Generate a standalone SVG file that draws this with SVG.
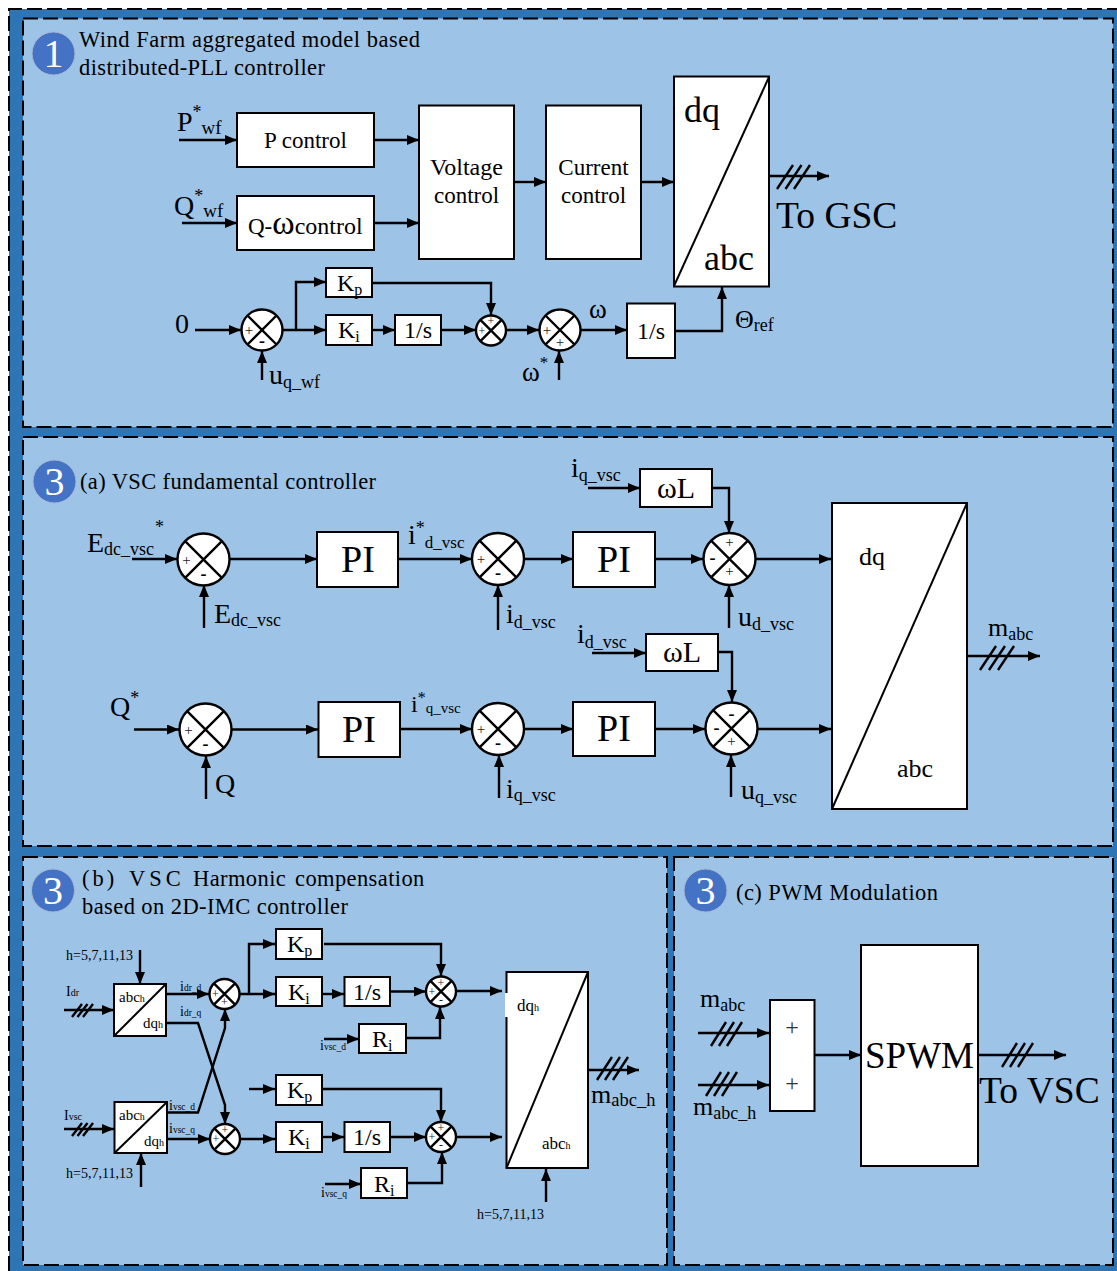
<svg xmlns="http://www.w3.org/2000/svg" width="1117" height="1271" viewBox="0 0 1117 1271">
<style>
text{font-family:"Liberation Serif","Times New Roman",serif;fill:#000}
.panel{fill:#9dc3e6;stroke:#000;stroke-width:2;stroke-dasharray:15 5}
.badge{fill:#4472c4;stroke:#a9b8d4;stroke-width:1}
.num{fill:#fff;font-size:40px;text-anchor:middle}
.title{font-size:22.5px}
.box{fill:#fff;stroke:#000;stroke-width:2}
.diag{fill:none;stroke:#000;stroke-width:2}
.sum{fill:#fff;stroke:#000;stroke-width:2.4}
.c{text-anchor:middle}
.line{fill:none;stroke:#000;stroke-width:2.4;marker-end:url(#arrow)}
.plain{fill:none;stroke:#000;stroke-width:2.4}
.sg{font-size:15px;text-anchor:middle;fill:#222}
.mn{font-size:18px;font-weight:bold;text-anchor:middle}
.sgs{font-size:12px;text-anchor:middle;fill:#222}
</style>
<defs>
<marker id="arrow" markerUnits="userSpaceOnUse" markerWidth="13" markerHeight="11" refX="12" refY="5" orient="auto"><path d="M0 0L12 5L0 10z" fill="#000"/></marker>
<g id="x26"><circle r="26" class="sum"/><path class="plain" d="M-18.400-18.400L18.400 18.400M-18.400 18.400L18.400-18.400"/></g>
<g id="x21"><circle r="20.500" class="sum"/><path class="plain" d="M-14.500-14.500L14.500 14.500M-14.500 14.500L14.500-14.500"/></g>
<g id="x15"><circle r="15" class="sum"/><path class="plain" d="M-10.600-10.600L10.600 10.600M-10.600 10.600L10.600-10.600"/></g>
</defs>
<rect x="9" y="9" width="1108" height="1262" fill="#2e75b6"/>
<path d="M9 1271V9H1117" fill="none" stroke="#000" stroke-width="2" stroke-dasharray="15 5"/>
<rect class="panel" x="23" y="18.500" width="1090" height="408.500"/>
<rect class="panel" x="23" y="437" width="1090" height="409"/>
<rect class="panel" x="23" y="857" width="644" height="408"/>
<rect class="panel" x="674" y="857" width="439" height="408"/>

<g id="panel1-header">
<circle class="badge" cx="53.500" cy="53.500" r="21.500"/><text class="num" x="53.500" y="67">1</text>
<text class="title" x="79" y="47" textLength="341">Wind Farm aggregated model based</text>
<text class="title" x="79" y="75" textLength="246">distributed-PLL controller</text>
</g>
<g id="panel2-header">
<circle class="badge" cx="54.500" cy="481.500" r="21.500"/><text class="num" x="54.500" y="495">3</text>
<text class="title" x="80" y="489" textLength="296">(a) VSC fundamental controller</text>
</g>
<g id="panel3-header">
<circle class="badge" cx="53" cy="890.500" r="21.500"/><text class="num" x="53" y="904">3</text>
<text class="title" x="82" y="886"><tspan letter-spacing="3">(b)</tspan><tspan x="129" letter-spacing="4">VSC</tspan><tspan x="193" letter-spacing="0.4">Harmonic</tspan><tspan x="295" letter-spacing="0.4">compensation</tspan></text>
<text class="title" x="82" y="914" textLength="266">based on 2D-IMC controller</text>
</g>
<g id="panel4-header">
<circle class="badge" cx="705.500" cy="890.500" r="21.500"/><text class="num" x="705.500" y="904">3</text>
<text class="title" x="736" y="900" textLength="202">(c) PWM Modulation</text>
</g>

<g id="connectors">
<path class="line" d="M179 140H237"/>
<path class="line" d="M182 223H237"/>
<path class="line" d="M374 140H419"/>
<path class="line" d="M374 223H419"/>
<path class="line" d="M514 182H546"/>
<path class="line" d="M641 182H674"/>
<path class="line" d="M769 176H829"/>
<path class="plain" d="M777 189L793 165M785.500 189L801.500 165M794 189L810 165"/>
<path class="line" d="M195 330H241"/>
<path class="line" d="M262 380V351"/>
<path class="line" d="M283 330H326"/>
<path class="line" d="M296 330V282H326"/>
<path class="line" d="M372 283H491V315"/>
<path class="line" d="M372 330H395"/>
<path class="line" d="M441 330H476"/>
<path class="line" d="M506 330H539"/>
<path class="line" d="M559 380V351"/>
<path class="line" d="M580 330H627"/>
<path class="line" d="M675 331H722V287"/>

<path class="line" d="M132 559H177"/>
<path class="line" d="M230 559H317"/>
<path class="line" d="M398 559H472"/>
<path class="line" d="M524 559H573"/>
<path class="line" d="M655 559H703"/>
<path class="line" d="M756 559H831"/>
<path class="line" d="M204 628V585"/>
<path class="line" d="M498 630V585"/>
<path class="line" d="M729 628V585"/>
<path class="line" d="M588 488H640"/>
<path class="line" d="M712 488H729V533"/>
<path class="line" d="M134 729.500H179"/>
<path class="line" d="M232 729.500H318"/>
<path class="line" d="M400 729H472"/>
<path class="line" d="M524 729H573"/>
<path class="line" d="M655 729H705"/>
<path class="line" d="M758 729H831"/>
<path class="line" d="M592 653H646"/>
<path class="line" d="M718 652H732V702"/>
<path class="line" d="M206 799V756"/>
<path class="line" d="M499 798V755"/>
<path class="line" d="M731 797V755"/>
<path class="line" d="M967 656H1040"/>
<path class="plain" d="M980 670L996 646M989 670L1005 646M998 670L1014 646"/>

<path class="line" d="M140 950V984"/>
<path class="line" d="M64 1010H114"/>
<path class="plain" d="M72 1017L82 1004M77.500 1017L87.500 1004M83 1017L93 1004"/>
<path class="line" d="M166 994H209"/>
<path class="line" d="M166 1023H198L225 1105V1124"/>
<path class="line" d="M167 1112.500H198L225 1028V1009"/>
<path class="line" d="M64 1129H114"/>
<path class="plain" d="M72 1136L82 1123M77.500 1136L87.500 1123M83 1136L93 1123"/>
<path class="line" d="M141 1187V1153"/>
<path class="line" d="M167 1139H210"/>
<path class="line" d="M240 994H275"/>
<path class="line" d="M249 994V944H275"/>
<path class="line" d="M322 994H344"/>
<path class="line" d="M390 991.500H426"/>
<path class="line" d="M324 944H441V976"/>
<path class="line" d="M324 1039H359"/>
<path class="line" d="M406 1038H440V1007"/>
<path class="line" d="M457 991H502"/>
<path class="line" d="M240 1139H275"/>
<path class="line" d="M249 1089H275"/>
<path class="line" d="M322 1089H441V1122"/>
<path class="line" d="M322 1137H344"/>
<path class="line" d="M390 1137H426"/>
<path class="line" d="M325 1184H361"/>
<path class="line" d="M407 1183H442V1152"/>
<path class="line" d="M457 1137H502"/>
<path class="line" d="M588 1070H639"/>
<path class="plain" d="M597 1080L612 1057M605 1080L620 1057M613 1080L628 1057"/>
<path class="line" d="M546 1202V1169"/>

<path class="line" d="M698 1033H769"/>
<path class="plain" d="M711 1046L726 1022M719 1046L734 1022M727 1046L742 1022"/>
<path class="line" d="M698 1085H769"/>
<path class="plain" d="M706 1096L721 1072M714 1096L729 1072M722 1096L737 1072"/>
<path class="line" d="M814 1055H861"/>
<path class="line" d="M979 1055H1066"/>
<path class="plain" d="M1002 1067L1017 1043M1010 1067L1025 1043M1018 1067L1033 1043"/>
</g>

<g id="p-control"><rect class="box" x="237" y="113" width="137" height="54"/><text class="c" x="305.500" y="148" font-size="23">P control</text></g>
<g id="q-control"><rect class="box" x="237" y="196" width="137" height="54"/><text x="248" y="234" font-size="23">Q-<tspan font-size="34">ω</tspan><tspan font-size="24">control</tspan></text></g>
<g id="voltage-control"><rect class="box" x="419" y="105.500" width="95" height="153.500"/><text class="c" x="466.500" y="175" font-size="24">Voltage</text><text class="c" x="466.500" y="203" font-size="23">control</text></g>
<g id="current-control"><rect class="box" x="546" y="105.500" width="95" height="153.500"/><text class="c" x="593.500" y="175" font-size="23">Current</text><text class="c" x="593.500" y="203" font-size="23">control</text></g>
<g id="dq-abc-1"><rect class="box" x="674" y="76.500" width="95" height="210"/><path class="diag" d="M769 77L674 286"/><text x="684" y="122" font-size="36">dq</text><text x="704" y="270" font-size="36">abc</text></g>
<g id="sum-1-a" transform="translate(262 330)"><use href="#x21"/><text class="sg" x="-13" y="5">+</text><text class="mn" y="17">-</text></g>
<g id="kp-1"><rect class="box" x="326" y="268" width="46" height="29"/><text x="337" y="291" font-size="24">K<tspan font-size="16" dy="4">p</tspan></text></g>
<g id="ki-1"><rect class="box" x="326" y="315" width="46" height="30"/><text x="338" y="338" font-size="24">K<tspan font-size="16" dy="4">i</tspan></text></g>
<g id="int-1"><rect class="box" x="395" y="315" width="46" height="30"/><text class="c" x="418" y="338" font-size="24">1/s</text></g>
<g id="sum-1-b" transform="translate(491 330.500)"><use href="#x15"/><text class="sgs" x="-9" y="4">+</text><text class="sgs" y="-6">+</text></g>
<g id="sum-1-c" transform="translate(560 330)"><use href="#x21"/><text class="sg" x="-13" y="5">+</text><text class="sg" y="17">+</text></g>
<g id="int-2"><rect class="box" x="627" y="303.500" width="48" height="54.500"/><text class="c" x="651" y="339" font-size="24">1/s</text></g>
<g id="labels-1">
<text x="177" y="131" font-size="28">P<tspan font-size="18" dy="-13">*</tspan><tspan font-size="19" dy="16">wf</tspan></text>
<text x="174" y="215" font-size="28">Q<tspan font-size="18" dy="-13">*</tspan><tspan font-size="19" dy="15">wf</tspan></text>
<text x="175" y="333" font-size="28">0</text>
<text x="269" y="384" font-size="28">u<tspan font-size="18" dy="4">q_wf</tspan></text>
<text x="522" y="381" font-size="27">ω<tspan font-size="17" dy="-13">*</tspan></text>
<text x="589" y="318" font-size="27">ω</text>
<text x="735" y="328" font-size="26">Θ<tspan font-size="18" dy="3">ref</tspan></text>
<text x="776" y="228" font-size="37.500">To GSC</text>
</g>

<g id="sum-2-a" transform="translate(203.500 559.500)"><use href="#x26"/><text class="sg" x="-17" y="5">+</text><text class="mn" y="20">-</text></g>
<g id="pi-1"><rect class="box" x="317" y="532" width="81" height="55"/><text class="c" x="358" y="572" font-size="38">PI</text></g>
<g id="sum-2-b" transform="translate(498 559)"><use href="#x26"/><text class="sg" x="-17" y="5">+</text><text class="mn" y="20">-</text></g>
<g id="pi-2"><rect class="box" x="573" y="532" width="82" height="55"/><text class="c" x="614" y="572" font-size="38">PI</text></g>
<g id="sum-2-c" transform="translate(729.500 559)"><use href="#x26"/><text class="mn" x="-17" y="5">-</text><text class="sg" y="-12">+</text><text class="sg" y="17">+</text></g>
<g id="wl-1"><rect class="box" x="640" y="469" width="72" height="38"/><text class="c" x="676" y="498" font-size="30">ωL</text></g>
<g id="sum-2-d" transform="translate(205.500 729.500)"><use href="#x26"/><text class="sg" x="-17" y="5">+</text><text class="mn" y="20">-</text></g>
<g id="pi-3"><rect class="box" x="318.500" y="702" width="81.500" height="55"/><text class="c" x="359" y="742" font-size="38">PI</text></g>
<g id="sum-2-e" transform="translate(498 729)"><use href="#x26"/><text class="sg" x="-17" y="5">+</text><text class="mn" y="20">-</text></g>
<g id="pi-4"><rect class="box" x="573" y="702" width="82" height="54"/><text class="c" x="614" y="741" font-size="38">PI</text></g>
<g id="sum-2-f" transform="translate(731.500 728.500)"><use href="#x26"/><text class="mn" x="-15" y="5">-</text><text class="mn" y="-9">-</text><text class="sg" y="17">+</text></g>
<g id="wl-2"><rect class="box" x="646" y="634" width="72" height="37"/><text class="c" x="682" y="662" font-size="30">ωL</text></g>
<g id="dq-abc-2"><rect class="box" x="832" y="503" width="135" height="306"/><path class="diag" d="M967 503L832 809"/><text x="859" y="565" font-size="26">dq</text><text x="897" y="777" font-size="26">abc</text></g>
<g id="labels-2">
<text x="87" y="552" font-size="28">E<tspan font-size="18" dy="3">dc_vsc</tspan><tspan font-size="18" dy="-22" dx="1">*</tspan></text>
<text x="214" y="623" font-size="28">E<tspan font-size="18" dy="3">dc_vsc</tspan></text>
<text x="408" y="544" font-size="28">i<tspan font-size="18" dy="-10">*</tspan><tspan font-size="17" dy="14">d_vsc</tspan></text>
<text x="506" y="623" font-size="28">i<tspan font-size="18" dy="5">d_vsc</tspan></text>
<text x="738" y="626" font-size="28">u<tspan font-size="18" dy="4">d_vsc</tspan></text>
<text x="571" y="477" font-size="28">i<tspan font-size="18" dy="4">q_vsc</tspan></text>
<text x="577" y="643" font-size="28">i<tspan font-size="18" dy="5">d_vsc</tspan></text>
<text x="110" y="716" font-size="28">Q<tspan font-size="18" dy="-12">*</tspan></text>
<text x="411" y="712" font-size="24">i<tspan font-size="16" dy="-9">*</tspan><tspan font-size="15" dy="10">q_vsc</tspan></text>
<text x="215" y="793" font-size="28">Q</text>
<text x="506" y="798" font-size="28">i<tspan font-size="18" dy="3">q_vsc</tspan></text>
<text x="741" y="799" font-size="28">u<tspan font-size="18" dy="4">q_vsc</tspan></text>
<text x="988" y="636" font-size="26">m<tspan font-size="18" dy="4">abc</tspan></text>
</g>

<g id="abc-dq-1"><rect class="box" x="114" y="984" width="52" height="52"/><path class="diag" d="M166 984L114 1036"/><text x="119" y="1002" font-size="15">abc<tspan font-size="10">h</tspan></text><text x="143" y="1028" font-size="15">dq<tspan font-size="10">h</tspan></text></g>
<g id="abc-dq-2"><rect class="box" x="114.500" y="1102" width="52.500" height="51"/><path class="diag" d="M167 1102L114.500 1153"/><text x="119" y="1120" font-size="15">abc<tspan font-size="10">h</tspan></text><text x="144" y="1146" font-size="15">dq<tspan font-size="10">h</tspan></text></g>
<g id="sum-3-a" transform="translate(224.500 994)"><use href="#x15"/><text class="sgs" x="-9" y="4">+</text><text class="sgs" y="12">+</text></g>
<g id="sum-3-b" transform="translate(225 1139)"><use href="#x15"/><text class="sgs" x="-9" y="4">+</text><text class="sgs" y="-5">+</text></g>
<g id="kp-3a"><rect class="box" x="276" y="929" width="46" height="30"/><text x="287" y="952" font-size="24">K<tspan font-size="16" dy="4">p</tspan></text></g>
<g id="ki-3a"><rect class="box" x="276" y="977" width="46" height="29"/><text x="288" y="1000" font-size="24">K<tspan font-size="16" dy="4">i</tspan></text></g>
<g id="int-3a"><rect class="box" x="344.500" y="977" width="45.500" height="29"/><text class="c" x="367" y="1000" font-size="24">1/s</text></g>
<g id="ri-3a"><rect class="box" x="359" y="1024" width="47" height="29"/><text x="372" y="1047" font-size="24">R<tspan font-size="16" dy="4">i</tspan></text></g>
<g id="sum-3-c" transform="translate(441 991.500)"><use href="#x15"/><text class="sgs" x="-9" y="4">+</text><text class="sgs" y="-5">+</text><text class="sgs" y="12">-</text></g>
<g id="kp-3b"><rect class="box" x="276" y="1075" width="46" height="30"/><text x="287" y="1098" font-size="24">K<tspan font-size="16" dy="4">p</tspan></text></g>
<g id="ki-3b"><rect class="box" x="276" y="1122" width="46" height="30"/><text x="288" y="1145" font-size="24">K<tspan font-size="16" dy="4">i</tspan></text></g>
<g id="int-3b"><rect class="box" x="344.500" y="1122" width="45.500" height="30"/><text class="c" x="367" y="1145" font-size="24">1/s</text></g>
<g id="ri-3b"><rect class="box" x="361" y="1168" width="46" height="30"/><text x="374" y="1192" font-size="24">R<tspan font-size="16" dy="4">i</tspan></text></g>
<g id="sum-3-d" transform="translate(441 1137)"><use href="#x15"/><text class="sgs" x="-9" y="4">+</text><text class="sgs" y="-5">+</text><text class="sgs" y="12">-</text></g>
<g id="dq-abc-3"><rect class="box" x="506.500" y="972" width="81.500" height="196"/><path class="diag" d="M588 972L506.500 1168"/><rect x="505" y="993" width="15" height="24" fill="#fff"/><text x="517" y="1011" font-size="17">dq<tspan font-size="10">h</tspan></text><text x="542" y="1149" font-size="17">abc<tspan font-size="10">h</tspan></text></g>
<g id="labels-3">
<text x="66" y="960" font-size="14">h=5,7,11,13</text>
<text x="66" y="1178" font-size="14">h=5,7,11,13</text>
<text x="477" y="1219" font-size="14">h=5,7,11,13</text>
<text x="66" y="996" font-size="14">I<tspan font-size="10">dr</tspan></text>
<text x="64" y="1120" font-size="14">I<tspan font-size="10">vsc</tspan></text>
<text x="180" y="991" font-size="14">i<tspan font-size="9.500">dr_d</tspan></text>
<text x="180" y="1016" font-size="14">i<tspan font-size="9.500">dr_q</tspan></text>
<text x="169" y="1110" font-size="14">i<tspan font-size="9.500">vsc_d</tspan></text>
<text x="169" y="1133" font-size="14">i<tspan font-size="9.500">vsc_q</tspan></text>
<text x="320" y="1050" font-size="14">i<tspan font-size="9.500">vsc_d</tspan></text>
<text x="321" y="1197" font-size="14">i<tspan font-size="9.500">vsc_q</tspan></text>
<text x="591" y="1103" font-size="26">m<tspan font-size="18.500" dy="3">abc_h</tspan></text>
</g>

<g id="adder"><rect class="box" x="770" y="1000" width="44.500" height="111"/><text class="c" x="792" y="1035" font-size="24" style="fill:#333">+</text><text class="c" x="792" y="1091" font-size="24" style="fill:#333">+</text></g>
<g id="spwm"><rect class="box" x="861" y="945" width="117" height="221"/><text class="c" x="919.500" y="1068" font-size="37">SPWM</text></g>
<g id="labels-4">
<text x="700" y="1007" font-size="26">m<tspan font-size="18" dy="4">abc</tspan></text>
<text x="693" y="1115" font-size="26">m<tspan font-size="18" dy="4">abc_h</tspan></text>
<text x="979" y="1103" font-size="37.500">To VSC</text>
</g>
</svg>
